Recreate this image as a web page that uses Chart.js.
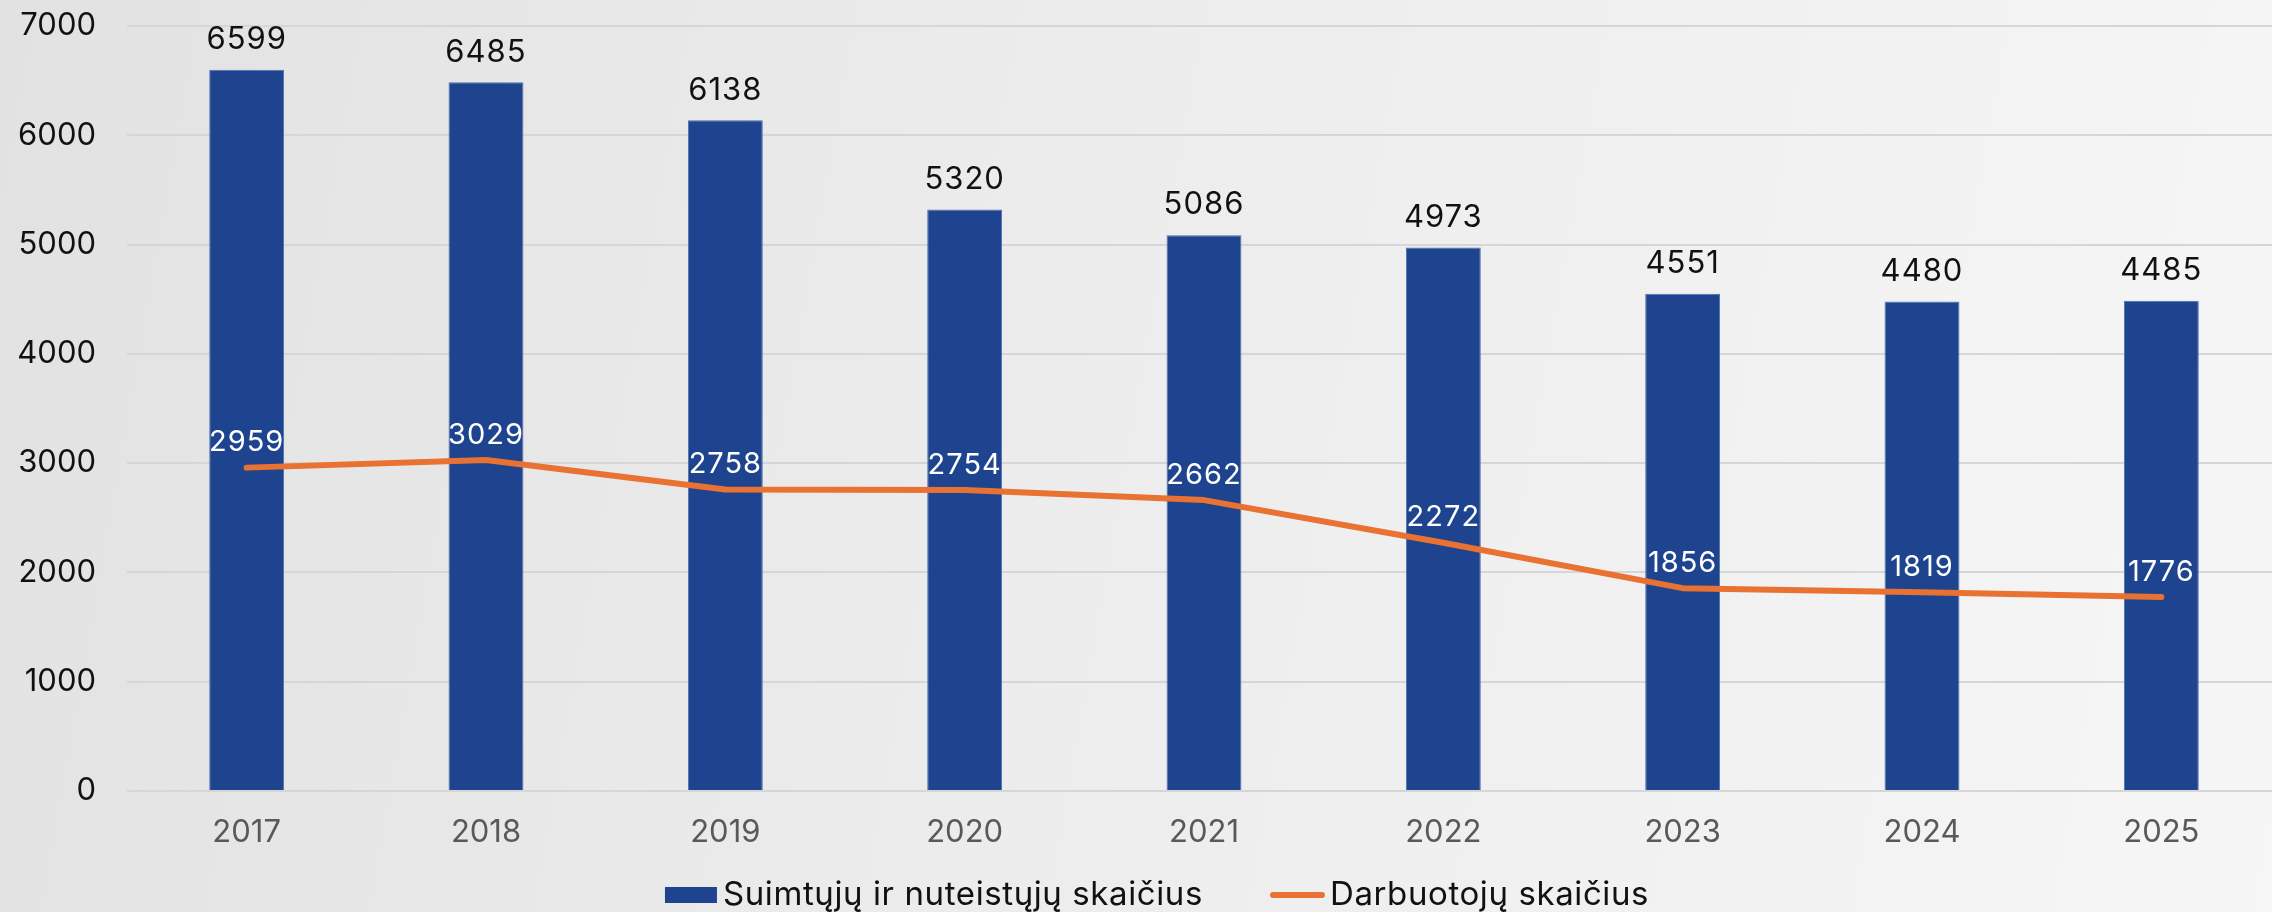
<!DOCTYPE html>
<html lang="lt">
<head>
<meta charset="utf-8">
<title>Suimtųjų ir nuteistųjų bei darbuotojų skaičius</title>
<script src="https://cdn.jsdelivr.net/npm/chart.js@4.4.1/dist/chart.umd.min.js"></script>
<style>
  html, body { margin: 0; padding: 0; overflow: hidden; }
  body {
    width: 2272px; height: 912px;
    background: linear-gradient(100deg, #e2e2e2 0%, #ececec 45%, #f6f6f6 100%);
  }
  #wrap { position: absolute; left: 0; top: 0; width: 2281px; height: 912px; }
</style>
</head>
<body>
<div id="wrap"><canvas id="chart"></canvas></div>
<script>
// Years on the category axis
const years = ['2017', '2018', '2019', '2020', '2021', '2022', '2023', '2024', '2025'];
// Number of detained and convicted persons (bars)
const detainees = [6599, 6485, 6138, 5320, 5086, 4973, 4551, 4480, 4485];
// Number of staff (line)
const staff = [2959, 3029, 2758, 2754, 2662, 2272, 1856, 1819, 1776];
// Value axis range
const yAxisMax = 7000;
const yAxisStep = 1000;

const seriesNames = ['Suimtųjų ir nuteistųjų skaičius', 'Darbuotojų skaičius'];

const FONT = 'Inter, "DejaVu Sans", sans-serif';
const BLUE = '#1F448F';
const ORANGE = '#E97132';

// Value labels over bars (black) and over line points (white)
const valueLabels = {
  id: 'valueLabels',
  afterDatasetsDraw(chart) {
    const ctx = chart.ctx;
    ctx.save();
    ctx.textAlign = 'center';
    ctx.textBaseline = 'middle';
    ctx.letterSpacing = '1px';
    const barMeta = chart.getDatasetMeta(0);
    ctx.font = '31px ' + FONT;
    ctx.fillStyle = '#111111';
    barMeta.data.forEach((el, i) => {
      ctx.fillText(String(chart.data.datasets[0].data[i]), el.x, el.y - 30);
    });
    const lineMeta = chart.getDatasetMeta(1);
    ctx.font = '29px ' + FONT;
    ctx.fillStyle = '#ffffff';
    lineMeta.data.forEach((el, i) => {
      ctx.fillText(String(chart.data.datasets[1].data[i]), el.x, el.y - 25);
    });
    ctx.restore();
  }
};

// Legend row under the axis
const bottomLegend = {
  id: 'bottomLegend',
  afterDraw(chart) {
    const ctx = chart.ctx;
    ctx.save();
    ctx.font = '33px ' + FONT;
    ctx.letterSpacing = '0.6px';
    ctx.textBaseline = 'middle';
    ctx.textAlign = 'left';
    const ds = chart.data.datasets;
    const w0 = ctx.measureText(ds[0].label).width;
    const w1 = ctx.measureText(ds[1].label).width;
    const total = 52 + 6 + w0 + 67 + 55 + 5 + w1;
    let x = 1157 - total / 2;
    const cy = 895;
    ctx.fillStyle = ds[0].backgroundColor;
    ctx.fillRect(x, cy - 8, 52, 16);
    x += 58;
    ctx.fillStyle = '#111111';
    ctx.fillText(ds[0].label, x, cy);
    x += w0 + 67;
    ctx.strokeStyle = ds[1].borderColor;
    ctx.lineWidth = 6;
    ctx.lineCap = 'round';
    ctx.beginPath();
    ctx.moveTo(x + 3, cy);
    ctx.lineTo(x + 52, cy);
    ctx.stroke();
    x += 60;
    ctx.fillText(ds[1].label, x, cy);
    ctx.restore();
  }
};

new Chart(document.getElementById('chart'), {
  data: {
    labels: years,
    datasets: [
      {
        type: 'bar',
        label: seriesNames[0],
        data: detainees,
        backgroundColor: BLUE,
        borderColor: '#4d6fae',
        borderWidth: 1,
        barPercentage: 0.313,
        categoryPercentage: 1,
        order: 1
      },
      {
        type: 'line',
        label: seriesNames[1],
        data: staff,
        borderColor: ORANGE,
        backgroundColor: ORANGE,
        borderWidth: 6,
        borderCapStyle: 'round',
        borderJoinStyle: 'round',
        tension: 0,
        pointRadius: 0,
        pointHoverRadius: 0,
        order: 0
      }
    ]
  },
  options: {
    responsive: true,
    maintainAspectRatio: false,
    animation: false,
    layout: { padding: { top: 26, right: 0, bottom: 0, left: 0 } },
    plugins: {
      legend: { display: false },
      tooltip: { enabled: false }
    },
    scales: {
      x: {
        grid: { display: false, drawTicks: false },
        border: { display: false },
        ticks: { color: '#595959', font: { family: FONT, size: 31 }, padding: 23 },
        afterFit(scale) { scale.height = 121; }
      },
      y: {
        min: 0,
        max: yAxisMax,
        grid: { color: '#d6d6d6', lineWidth: 2, drawTicks: false },
        border: { display: false },
        ticks: {
          stepSize: yAxisStep,
          color: '#111111',
          font: { family: FONT, size: 31 },
          padding: 31,
          callback: (v) => String(v)
        },
        afterFit(scale) {
          scale.width = 127;
          scale.paddingTop = 0;
          scale.paddingBottom = 0;
        }
      }
    }
  },
  plugins: [valueLabels, bottomLegend]
});
</script>
</body>
</html>
